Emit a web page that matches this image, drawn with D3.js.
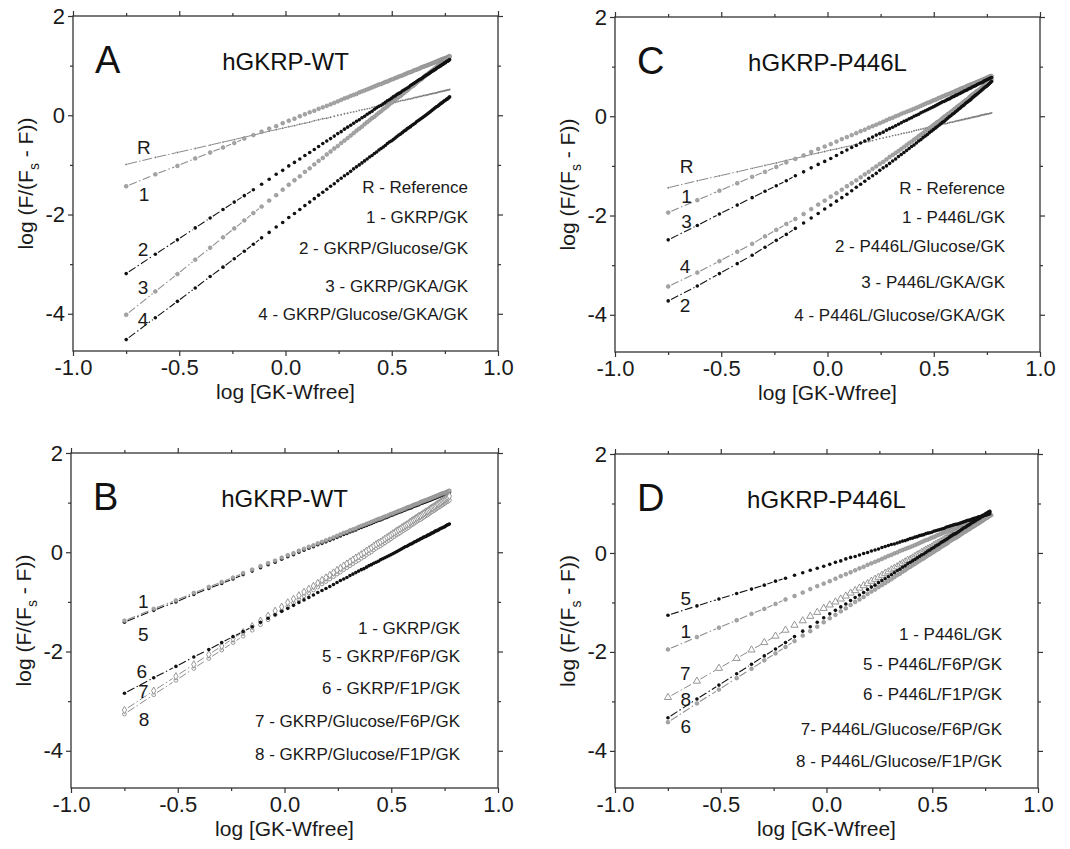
<!DOCTYPE html>
<html>
<head>
<meta charset="utf-8">
<script src="https://cdn.jsdelivr.net/npm/d3@7"></script>
<style>
  html, body { margin: 0; padding: 0; background: #fff; }
  svg { display: block; font-family: "Liberation Sans", Arial, Helvetica, sans-serif; }
</style>
</head>
<body>
<svg id="fig" width="1070" height="849"></svg>
<script>
// Titration points: log [GK-Wfree] (same GK additions for every curve)
const logGK = [
  -0.7496,-0.6126,-0.5086,-0.4248,-0.3546,-0.2941,-0.2411,-0.1938,-0.1512,-0.1124,
  -0.0768,-0.0438,-0.0132,0.0154,0.0422,0.0674,0.0913,0.1139,0.1355,0.1559,
  0.1755,0.1942,0.2122,0.2295,0.2460,0.2620,0.2774,0.2923,0.3067,0.3206,
  0.3341,0.3471,0.3598,0.3722,0.3842,0.3959,0.4072,0.4183,0.4291,0.4397,
  0.4499,0.4600,0.4698,0.4794,0.4888,0.4980,0.5071,0.5159,0.5245,0.5330,
  0.5413,0.5495,0.5575,0.5654,0.5731,0.5807,0.5882,0.5955,0.6027,0.6098,
  0.6168,0.6236,0.6304,0.6371,0.6436,0.6501,0.6565,0.6628,0.6690,0.6750,
  0.6811,0.6870,0.6928,0.6986,0.7043,0.7099,0.7155,0.7210,0.7264,0.7317,
  0.7370,0.7422,0.7474,0.7525,0.7575,0.7625,0.7674,0.7723
];

// ---- Panel A: hGKRP-WT, log(F/(Fs-F)) ----
const A_R = [
  -0.99,-0.85,-0.75,-0.67,-0.60,-0.54,-0.49,-0.44,-0.40,-0.36,
  -0.32,-0.29,-0.26,-0.23,-0.21,-0.18,-0.16,-0.14,-0.11,-0.09,
  -0.07,-0.06,-0.04,-0.02,0.00,0.01,0.03,0.04,0.06,0.07,
  0.08,0.10,0.11,0.12,0.13,0.14,0.16,0.17,0.18,0.19,
  0.20,0.21,0.22,0.23,0.24,0.25,0.25,0.26,0.27,0.28,
  0.29,0.30,0.30,0.31,0.32,0.33,0.33,0.34,0.35,0.36,
  0.36,0.37,0.38,0.38,0.39,0.40,0.40,0.41,0.41,0.42,
  0.43,0.43,0.44,0.44,0.45,0.45,0.46,0.47,0.47,0.48,
  0.48,0.49,0.49,0.50,0.50,0.51,0.51,0.52
];
const A_1 = [
  -1.43,-1.19,-1.02,-0.87,-0.75,-0.65,-0.56,-0.47,-0.40,-0.33,
  -0.27,-0.22,-0.16,-0.11,-0.07,-0.02,0.02,0.06,0.09,0.13,
  0.16,0.19,0.22,0.25,0.28,0.31,0.34,0.36,0.39,0.41,
  0.43,0.46,0.48,0.50,0.52,0.54,0.56,0.58,0.60,0.62,
  0.63,0.65,0.67,0.68,0.70,0.72,0.73,0.75,0.76,0.78,
  0.79,0.80,0.82,0.83,0.85,0.86,0.87,0.88,0.90,0.91,
  0.92,0.93,0.94,0.96,0.97,0.98,0.99,1.00,1.01,1.02,
  1.03,1.04,1.05,1.06,1.07,1.08,1.09,1.10,1.11,1.12,
  1.13,1.14,1.14,1.15,1.16,1.17,1.18,1.19
];
const A_2 = [
  -3.19,-2.80,-2.51,-2.27,-2.07,-1.90,-1.75,-1.62,-1.50,-1.39,
  -1.29,-1.19,-1.11,-1.02,-0.95,-0.88,-0.81,-0.75,-0.69,-0.63,
  -0.57,-0.52,-0.47,-0.42,-0.37,-0.33,-0.28,-0.24,-0.20,-0.16,
  -0.12,-0.09,-0.05,-0.02,0.02,0.05,0.08,0.12,0.15,0.18,
  0.20,0.23,0.26,0.29,0.31,0.34,0.37,0.39,0.42,0.44,
  0.46,0.49,0.51,0.53,0.55,0.57,0.60,0.62,0.64,0.66,
  0.68,0.70,0.72,0.73,0.75,0.77,0.79,0.81,0.82,0.84,
  0.86,0.88,0.89,0.91,0.92,0.94,0.96,0.97,0.99,1.00,
  1.02,1.03,1.05,1.06,1.08,1.09,1.10,1.12
];
const A_3 = [
  -4.02,-3.55,-3.20,-2.91,-2.67,-2.46,-2.28,-2.12,-1.97,-1.84,
  -1.72,-1.61,-1.50,-1.40,-1.31,-1.23,-1.14,-1.07,-0.99,-0.92,
  -0.86,-0.79,-0.73,-0.67,-0.62,-0.56,-0.51,-0.46,-0.41,-0.36,
  -0.31,-0.27,-0.23,-0.18,-0.14,-0.10,-0.06,-0.03,0.01,0.05,
  0.08,0.12,0.15,0.18,0.22,0.25,0.28,0.31,0.34,0.37,
  0.39,0.42,0.45,0.48,0.50,0.53,0.56,0.58,0.60,0.63,
  0.65,0.68,0.70,0.72,0.74,0.77,0.79,0.81,0.83,0.85,
  0.87,0.89,0.91,0.93,0.95,0.97,0.99,1.01,1.03,1.05,
  1.06,1.08,1.10,1.12,1.13,1.15,1.17,1.18
];
const A_4 = [
  -4.52,-4.08,-3.75,-3.48,-3.25,-3.06,-2.89,-2.74,-2.60,-2.47,
  -2.36,-2.25,-2.16,-2.06,-1.98,-1.90,-1.82,-1.75,-1.68,-1.61,
  -1.55,-1.49,-1.43,-1.38,-1.32,-1.27,-1.22,-1.18,-1.13,-1.08,
  -1.04,-1.00,-0.96,-0.92,-0.88,-0.84,-0.81,-0.77,-0.74,-0.70,
  -0.67,-0.64,-0.61,-0.57,-0.54,-0.52,-0.49,-0.46,-0.43,-0.40,
  -0.38,-0.35,-0.32,-0.30,-0.27,-0.25,-0.23,-0.20,-0.18,-0.16,
  -0.13,-0.11,-0.09,-0.07,-0.05,-0.03,-0.01,0.01,0.03,0.05,
  0.07,0.09,0.11,0.13,0.15,0.17,0.18,0.20,0.22,0.24,
  0.25,0.27,0.29,0.30,0.32,0.33,0.35,0.37
];

// ---- Panel C: hGKRP-P446L ----
const C_R = [
  -1.44,-1.30,-1.20,-1.12,-1.05,-0.99,-0.94,-0.89,-0.85,-0.81,
  -0.77,-0.74,-0.71,-0.68,-0.66,-0.63,-0.61,-0.59,-0.56,-0.54,
  -0.52,-0.51,-0.49,-0.47,-0.45,-0.44,-0.42,-0.41,-0.39,-0.38,
  -0.37,-0.35,-0.34,-0.33,-0.32,-0.31,-0.29,-0.28,-0.27,-0.26,
  -0.25,-0.24,-0.23,-0.22,-0.21,-0.20,-0.20,-0.19,-0.18,-0.17,
  -0.16,-0.15,-0.15,-0.14,-0.13,-0.12,-0.12,-0.11,-0.10,-0.09,
  -0.09,-0.08,-0.07,-0.07,-0.06,-0.05,-0.05,-0.04,-0.04,-0.03,
  -0.02,-0.02,-0.01,-0.01,0.00,0.00,0.01,0.02,0.02,0.03,
  0.03,0.04,0.04,0.05,0.05,0.06,0.06,0.07
];
const C_1 = [
  -1.94,-1.69,-1.50,-1.35,-1.22,-1.12,-1.02,-0.93,-0.86,-0.79,
  -0.72,-0.66,-0.61,-0.56,-0.51,-0.46,-0.42,-0.38,-0.34,-0.30,
  -0.27,-0.23,-0.20,-0.17,-0.14,-0.11,-0.08,-0.05,-0.03,0.00,
  0.02,0.05,0.07,0.09,0.11,0.13,0.15,0.17,0.19,0.21,
  0.23,0.25,0.27,0.28,0.30,0.32,0.33,0.35,0.37,0.38,
  0.40,0.41,0.43,0.44,0.45,0.47,0.48,0.49,0.51,0.52,
  0.53,0.55,0.56,0.57,0.58,0.59,0.61,0.62,0.63,0.64,
  0.65,0.66,0.67,0.68,0.69,0.70,0.71,0.72,0.73,0.74,
  0.75,0.76,0.77,0.78,0.79,0.80,0.81,0.81
];
const C_2 = [
  -3.72,-3.42,-3.17,-2.97,-2.80,-2.64,-2.50,-2.38,-2.26,-2.15,
  -2.05,-1.96,-1.87,-1.79,-1.71,-1.64,-1.57,-1.50,-1.43,-1.37,
  -1.31,-1.25,-1.20,-1.15,-1.09,-1.04,-1.00,-0.95,-0.90,-0.86,
  -0.81,-0.77,-0.73,-0.69,-0.65,-0.61,-0.58,-0.54,-0.50,-0.47,
  -0.43,-0.40,-0.37,-0.33,-0.30,-0.27,-0.24,-0.21,-0.18,-0.15,
  -0.12,-0.10,-0.07,-0.04,-0.01,0.01,0.04,0.06,0.09,0.11,
  0.14,0.16,0.19,0.21,0.23,0.26,0.28,0.30,0.32,0.34,
  0.37,0.39,0.41,0.43,0.45,0.47,0.49,0.51,0.53,0.55,
  0.57,0.59,0.60,0.62,0.64,0.66,0.68,0.70
];
const C_3 = [
  -2.49,-2.20,-1.97,-1.79,-1.64,-1.51,-1.40,-1.30,-1.20,-1.12,
  -1.04,-0.97,-0.91,-0.85,-0.79,-0.73,-0.68,-0.63,-0.59,-0.54,
  -0.50,-0.46,-0.42,-0.38,-0.35,-0.32,-0.28,-0.25,-0.22,-0.19,
  -0.16,-0.13,-0.10,-0.08,-0.05,-0.03,0.00,0.02,0.04,0.07,
  0.09,0.11,0.13,0.15,0.17,0.19,0.21,0.23,0.25,0.27,
  0.29,0.30,0.32,0.34,0.35,0.37,0.39,0.40,0.42,0.43,
  0.45,0.46,0.48,0.49,0.51,0.52,0.53,0.55,0.56,0.57,
  0.59,0.60,0.61,0.62,0.64,0.65,0.66,0.67,0.68,0.69,
  0.71,0.72,0.73,0.74,0.75,0.76,0.77,0.78
];
const C_4 = [
  -3.43,-3.15,-2.92,-2.73,-2.57,-2.42,-2.29,-2.17,-2.07,-1.97,
  -1.87,-1.78,-1.70,-1.62,-1.55,-1.48,-1.41,-1.35,-1.29,-1.23,
  -1.17,-1.12,-1.06,-1.01,-0.96,-0.92,-0.87,-0.82,-0.78,-0.74,
  -0.70,-0.66,-0.62,-0.58,-0.54,-0.51,-0.47,-0.44,-0.40,-0.37,
  -0.34,-0.30,-0.27,-0.24,-0.21,-0.18,-0.15,-0.12,-0.10,-0.07,
  -0.04,-0.01,0.01,0.04,0.06,0.09,0.11,0.14,0.16,0.19,
  0.21,0.23,0.25,0.28,0.30,0.32,0.34,0.36,0.39,0.41,
  0.43,0.45,0.47,0.49,0.51,0.52,0.54,0.56,0.58,0.60,
  0.62,0.64,0.65,0.67,0.69,0.71,0.72,0.74
];

// ---- Panel B: hGKRP-WT with sugar phosphates ----
const B_1 = [
  -1.38,-1.14,-0.97,-0.82,-0.70,-0.60,-0.51,-0.42,-0.35,-0.28,
  -0.22,-0.17,-0.11,-0.06,-0.02,0.03,0.07,0.11,0.14,0.18,
  0.21,0.24,0.27,0.30,0.33,0.36,0.39,0.41,0.44,0.46,
  0.48,0.51,0.53,0.55,0.57,0.59,0.61,0.63,0.65,0.67,
  0.68,0.70,0.72,0.73,0.75,0.77,0.78,0.80,0.81,0.83,
  0.84,0.85,0.87,0.88,0.90,0.91,0.92,0.93,0.95,0.96,
  0.97,0.98,0.99,1.01,1.02,1.03,1.04,1.05,1.06,1.07,
  1.08,1.09,1.10,1.11,1.12,1.13,1.14,1.15,1.16,1.17,
  1.18,1.19,1.19,1.20,1.21,1.22,1.23,1.24
];
const B_5 = [
  -1.41,-1.17,-1.00,-0.85,-0.73,-0.63,-0.54,-0.45,-0.38,-0.31,
  -0.25,-0.20,-0.14,-0.09,-0.05,0.00,0.04,0.08,0.11,0.15,
  0.18,0.21,0.24,0.27,0.30,0.33,0.36,0.38,0.41,0.43,
  0.45,0.48,0.50,0.52,0.54,0.56,0.58,0.60,0.62,0.64,
  0.65,0.67,0.69,0.70,0.72,0.74,0.75,0.77,0.78,0.80,
  0.81,0.82,0.84,0.85,0.87,0.88,0.89,0.90,0.92,0.93,
  0.94,0.95,0.96,0.98,0.99,1.00,1.01,1.02,1.03,1.04,
  1.05,1.06,1.07,1.08,1.09,1.10,1.11,1.12,1.13,1.14,
  1.15,1.16,1.16,1.17,1.18,1.19,1.20,1.21
];
const B_6 = [
  -2.84,-2.53,-2.30,-2.11,-1.96,-1.82,-1.70,-1.60,-1.50,-1.41,
  -1.33,-1.26,-1.19,-1.13,-1.07,-1.01,-0.96,-0.91,-0.86,-0.81,
  -0.77,-0.73,-0.69,-0.65,-0.61,-0.57,-0.54,-0.51,-0.47,-0.44,
  -0.41,-0.38,-0.35,-0.33,-0.30,-0.27,-0.25,-0.22,-0.20,-0.18,
  -0.15,-0.13,-0.11,-0.09,-0.07,-0.05,-0.03,-0.01,0.01,0.03,
  0.05,0.07,0.09,0.11,0.12,0.14,0.16,0.17,0.19,0.21,
  0.22,0.24,0.25,0.27,0.28,0.30,0.31,0.32,0.34,0.35,
  0.36,0.38,0.39,0.40,0.42,0.43,0.44,0.45,0.47,0.48,
  0.49,0.50,0.51,0.52,0.54,0.55,0.56,0.57
];
const B_7 = [
  -3.18,-2.79,-2.50,-2.26,-2.06,-1.89,-1.74,-1.61,-1.49,-1.38,
  -1.28,-1.18,-1.10,-1.01,-0.94,-0.87,-0.80,-0.74,-0.68,-0.62,
  -0.56,-0.51,-0.46,-0.41,-0.36,-0.32,-0.27,-0.23,-0.19,-0.15,
  -0.11,-0.08,-0.04,-0.01,0.03,0.06,0.09,0.13,0.16,0.19,
  0.21,0.24,0.27,0.30,0.32,0.35,0.38,0.40,0.43,0.45,
  0.47,0.50,0.52,0.54,0.56,0.58,0.61,0.63,0.65,0.67,
  0.69,0.71,0.73,0.74,0.76,0.78,0.80,0.82,0.83,0.85,
  0.87,0.89,0.90,0.92,0.93,0.95,0.97,0.98,1.00,1.01,
  1.03,1.04,1.06,1.07,1.09,1.10,1.11,1.13
];
const B_8 = [
  -3.26,-2.87,-2.58,-2.34,-2.14,-1.97,-1.82,-1.69,-1.57,-1.46,
  -1.36,-1.26,-1.18,-1.09,-1.02,-0.95,-0.88,-0.82,-0.76,-0.70,
  -0.64,-0.59,-0.54,-0.49,-0.44,-0.40,-0.35,-0.31,-0.27,-0.23,
  -0.19,-0.16,-0.12,-0.09,-0.05,-0.02,0.01,0.05,0.08,0.11,
  0.13,0.16,0.19,0.22,0.24,0.27,0.30,0.32,0.35,0.37,
  0.39,0.42,0.44,0.46,0.48,0.50,0.53,0.55,0.57,0.59,
  0.61,0.63,0.65,0.66,0.68,0.70,0.72,0.74,0.75,0.77,
  0.79,0.81,0.82,0.84,0.85,0.87,0.89,0.90,0.92,0.93,
  0.95,0.96,0.98,0.99,1.01,1.02,1.03,1.05
];

// ---- Panel D: hGKRP-P446L with sugar phosphates ----
const D_1 = [
  -1.95,-1.70,-1.51,-1.36,-1.23,-1.13,-1.03,-0.94,-0.87,-0.80,
  -0.73,-0.67,-0.62,-0.57,-0.52,-0.47,-0.43,-0.39,-0.35,-0.31,
  -0.28,-0.24,-0.21,-0.18,-0.15,-0.12,-0.09,-0.06,-0.04,-0.01,
  0.01,0.04,0.06,0.08,0.10,0.12,0.14,0.16,0.18,0.20,
  0.22,0.24,0.26,0.27,0.29,0.31,0.32,0.34,0.36,0.37,
  0.39,0.40,0.42,0.43,0.44,0.46,0.47,0.48,0.50,0.51,
  0.52,0.54,0.55,0.56,0.57,0.58,0.60,0.61,0.62,0.63,
  0.64,0.65,0.66,0.67,0.68,0.69,0.70,0.71,0.72,0.73,
  0.74,0.75,0.76,0.77,0.78,0.79,0.80,0.80
];
const D_5 = [
  -1.26,-1.07,-0.93,-0.82,-0.73,-0.65,-0.57,-0.51,-0.45,-0.40,
  -0.35,-0.31,-0.27,-0.23,-0.19,-0.16,-0.12,-0.09,-0.07,-0.04,
  -0.01,0.01,0.04,0.06,0.08,0.11,0.13,0.15,0.17,0.18,
  0.20,0.22,0.24,0.25,0.27,0.29,0.30,0.32,0.33,0.35,
  0.36,0.37,0.39,0.40,0.41,0.42,0.44,0.45,0.46,0.47,
  0.48,0.49,0.50,0.52,0.53,0.54,0.55,0.56,0.57,0.58,
  0.58,0.59,0.60,0.61,0.62,0.63,0.64,0.65,0.66,0.66,
  0.67,0.68,0.69,0.70,0.70,0.71,0.72,0.73,0.73,0.74,
  0.75,0.75,0.76,0.77,0.77,0.78,0.79,0.79
];
const D_6 = [
  -3.33,-2.95,-2.67,-2.44,-2.25,-2.08,-1.94,-1.81,-1.69,-1.58,
  -1.49,-1.40,-1.31,-1.23,-1.16,-1.09,-1.03,-0.96,-0.90,-0.85,
  -0.80,-0.74,-0.69,-0.65,-0.60,-0.56,-0.52,-0.48,-0.44,-0.40,
  -0.36,-0.33,-0.29,-0.26,-0.22,-0.19,-0.16,-0.13,-0.10,-0.07,
  -0.04,-0.02,0.01,0.04,0.06,0.09,0.11,0.14,0.16,0.18,
  0.21,0.23,0.25,0.27,0.29,0.32,0.34,0.36,0.38,0.39,
  0.41,0.43,0.45,0.47,0.49,0.51,0.52,0.54,0.56,0.57,
  0.59,0.61,0.62,0.64,0.65,0.67,0.68,0.70,0.71,0.73,
  0.74,0.76,0.77,0.79,0.80,0.81,0.83,0.84
];
const D_7 = [
  -2.92,-2.59,-2.33,-2.13,-1.96,-1.81,-1.68,-1.56,-1.46,-1.37,
  -1.28,-1.20,-1.12,-1.05,-0.99,-0.93,-0.87,-0.81,-0.76,-0.71,
  -0.66,-0.62,-0.57,-0.53,-0.49,-0.45,-0.41,-0.38,-0.34,-0.31,
  -0.28,-0.24,-0.21,-0.18,-0.15,-0.13,-0.10,-0.07,-0.04,-0.02,
  0.01,0.03,0.06,0.08,0.10,0.12,0.15,0.17,0.19,0.21,
  0.23,0.25,0.27,0.29,0.31,0.33,0.34,0.36,0.38,0.40,
  0.41,0.43,0.45,0.46,0.48,0.50,0.51,0.53,0.54,0.56,
  0.57,0.59,0.60,0.61,0.63,0.64,0.65,0.67,0.68,0.69,
  0.71,0.72,0.73,0.75,0.76,0.77,0.78,0.79
];
const D_8 = [
  -3.42,-3.04,-2.76,-2.53,-2.34,-2.17,-2.03,-1.90,-1.78,-1.67,
  -1.58,-1.49,-1.40,-1.32,-1.25,-1.18,-1.12,-1.05,-0.99,-0.94,
  -0.89,-0.83,-0.78,-0.74,-0.69,-0.65,-0.61,-0.57,-0.53,-0.49,
  -0.45,-0.42,-0.38,-0.35,-0.31,-0.28,-0.25,-0.22,-0.19,-0.16,
  -0.13,-0.11,-0.08,-0.05,-0.03,0.00,0.02,0.05,0.07,0.09,
  0.12,0.14,0.16,0.18,0.20,0.23,0.25,0.27,0.29,0.30,
  0.32,0.34,0.36,0.38,0.40,0.42,0.43,0.45,0.47,0.48,
  0.50,0.52,0.53,0.55,0.56,0.58,0.59,0.61,0.62,0.64,
  0.65,0.67,0.68,0.70,0.71,0.72,0.74,0.75
];

// Legend texts
const A_legend = ["R - Reference", "1 - GKRP/GK", "2 - GKRP/Glucose/GK", "3 - GKRP/GKA/GK", "4 - GKRP/Glucose/GKA/GK"];
const C_legend = ["R - Reference", "1 - P446L/GK", "2 - P446L/Glucose/GK", "3 - P446L/GKA/GK", "4 - P446L/Glucose/GKA/GK"];
const B_legend = ["1 - GKRP/GK", "5 - GKRP/F6P/GK", "6 - GKRP/F1P/GK", "7 - GKRP/Glucose/F6P/GK", "8 - GKRP/Glucose/F1P/GK"];
const D_legend = ["1 - P446L/GK", "5 - P446L/F6P/GK", "6 - P446L/F1P/GK", "7- P446L/Glucose/F6P/GK", "8 - P446L/Glucose/F1P/GK"];

// Curve tags placed next to the first titration point [text, x, y]
const A_tags = [["R", -0.666, -0.64], ["1", -0.666, -1.58], ["2", -0.67, -2.69], ["3", -0.67, -3.46], ["4", -0.67, -4.10]];
const C_tags = [["R", -0.663, -1.01], ["1", -0.663, -1.61], ["3", -0.663, -2.12], ["4", -0.67, -3.02], ["2", -0.67, -3.80]];
const B_tags = [["1", -0.661, -0.98], ["5", -0.661, -1.65], ["6", -0.668, -2.39], ["7", -0.661, -2.79], ["8", -0.658, -3.36]];
const D_tags = [["5", -0.665, -0.91], ["1", -0.665, -1.58], ["7", -0.668, -2.42], ["8", -0.665, -2.96], ["6", -0.665, -3.50]];

// Axis ticks
const xMajor = [-1, -0.5, 0, 0.5, 1];
const xMinor = [-0.75, -0.25, 0.25, 0.75];
const yMajor = [-4, -2, 0, 2];
const yMinor = [-3, -1, 1];

// ---------------------------------------------------------------------------
const FONT = '"Liberation Sans", Arial, Helvetica, sans-serif';
const svg = d3.select("#fig");
svg.append("rect").attr("width", 1070).attr("height", 849).attr("fill", "#fff");

// Marker / line styles per curve type
const STYLES = {
  ref:   { line: "#7a7a7a", lw: 0.9, dash: "10,2,1.5,2", gap: 1.2, minSeg: 1.5 },
  black: { line: "#111",    lw: 1.1, dash: "8,2.5,1.5,2.5", gap: 3.2, minSeg: 3.5 },
  gray:  { line: "#8c8c8c", lw: 1.1, dash: "8,2.5,1.5,2.5", gap: 3.4, minSeg: 3.5 },
  tri:   { line: "#8c8c8c", lw: 1.0, dash: "8,2.5,1.5,2.5", gap: 4.0, minSeg: 3.5 },
  diam:  { line: "#8c8c8c", lw: 1.0, dash: "8,2.5,1.5,2.5", gap: 4.0, minSeg: 3.5 },
  ocirc: { line: "#8c8c8c", lw: 1.0, dash: "8,2.5,1.5,2.5", gap: 4.0, minSeg: 3.5 }
};

function drawMarkers(g, pts, kind) {
  if (kind === "ref") {
    g.selectAll(null).data(pts).join("circle")
      .attr("cx", d => d[0]).attr("cy", d => d[1]).attr("r", 0.9).attr("fill", "#7a7a7a");
  } else if (kind === "black") {
    g.selectAll(null).data(pts).join("circle")
      .attr("cx", d => d[0]).attr("cy", d => d[1]).attr("r", 1.8).attr("fill", "#111");
  } else if (kind === "gray") {
    g.selectAll(null).data(pts).join("circle")
      .attr("cx", d => d[0]).attr("cy", d => d[1]).attr("r", 1.9)
      .attr("fill", "#a6a6a6").attr("stroke", "#8a8a8a").attr("stroke-width", 0.6);
  } else if (kind === "ocirc") {
    g.selectAll(null).data(pts).join("circle")
      .attr("cx", d => d[0]).attr("cy", d => d[1]).attr("r", 1.9)
      .attr("fill", "#fff").attr("stroke", "#8a8a8a").attr("stroke-width", 0.9);
  } else {
    const sym = d3.symbol().type(kind === "tri" ? d3.symbolTriangle : d3.symbolDiamond).size(kind === "tri" ? 22 : 16);
    g.selectAll(null).data(pts).join("path")
      .attr("transform", d => `translate(${d[0]},${d[1]})`)
      .attr("d", sym).attr("fill", "#fff").attr("stroke", "#8a8a8a").attr("stroke-width", 0.9);
  }
}

function drawCurve(g, x, y, ys, kind) {
  const st = STYLES[kind];
  const pts = logGK.map((v, i) => [x(v), y(ys[i])]);
  const segs = [];
  for (let i = 0; i < pts.length - 1; i++) {
    const [x0, y0] = pts[i], [x1, y1] = pts[i + 1];
    const dx = x1 - x0, dy = y1 - y0, len = Math.hypot(dx, dy);
    if (len - 2 * st.gap < st.minSeg) continue;
    const ux = dx / len, uy = dy / len;
    segs.push([x0 + ux * st.gap, y0 + uy * st.gap, x1 - ux * st.gap, y1 - uy * st.gap]);
  }
  const cg = g.append("g");
  cg.selectAll(null).data(segs).join("line")
    .attr("x1", d => d[0]).attr("y1", d => d[1]).attr("x2", d => d[2]).attr("y2", d => d[3])
    .attr("stroke", st.line).attr("stroke-width", st.lw).attr("stroke-dasharray", st.dash);
  drawMarkers(cg, pts, kind);
}

function drawAxes(g, x, y, b) {
  const mk = (axis, tx, ty, vals, size, fmt) => {
    const a = g.append("g").attr("transform", `translate(${tx},${ty})`)
      .call(axis.tickValues(vals).tickSize(size).tickPadding(3).tickFormat(fmt || (() => "")));
    a.select(".domain").remove();
    a.selectAll("line").attr("stroke", "#333").attr("stroke-width", 1.2);
    a.selectAll("text").attr("font-size", 22).attr("font-family", FONT).attr("fill", "#1a1a1a");
  };
  const bottom = b.top + b.height, right = b.left + b.width;
  mk(d3.axisBottom(x), 0, bottom, xMajor, 5, d => d.toFixed(1));
  mk(d3.axisBottom(x), 0, bottom, xMinor, 3);
  mk(d3.axisTop(x), 0, b.top, xMajor, 5);
  mk(d3.axisTop(x), 0, b.top, xMinor, 3);
  mk(d3.axisLeft(y), b.left, 0, yMajor, 5, d => String(d));
  mk(d3.axisLeft(y), b.left, 0, yMinor, 3);
  mk(d3.axisRight(y), right, 0, yMajor, 5);
  mk(d3.axisRight(y), right, 0, yMinor, 3);

  g.append("rect").attr("x", b.left).attr("y", b.top).attr("width", b.width).attr("height", b.height)
    .attr("fill", "none").attr("stroke", "#333").attr("stroke-width", 1.3);

  // x title
  g.append("text").attr("x", b.left + b.width / 2).attr("y", bottom + 48)
    .attr("text-anchor", "middle").attr("font-size", 21).attr("font-family", FONT).attr("fill", "#1a1a1a")
    .text("log [GK-Wfree]");
  // y title with subscript s
  const yt = g.append("text")
    .attr("transform", `translate(${b.left - 40},${b.top + b.height / 2}) rotate(-90)`)
    .attr("text-anchor", "middle").attr("font-size", 21).attr("font-family", FONT).attr("fill", "#1a1a1a");
  yt.append("tspan").text("log (F/(F");
  yt.append("tspan").attr("dy", 6).attr("font-size", 14).text("s");
  yt.append("tspan").attr("dy", -6).text(" - F))");
}

function drawPanel(p) {
  const b = p.box;
  const g = svg.append("g");
  const x = d3.scaleLinear().domain([-1, 1]).range([b.left, b.left + b.width]);
  const y = d3.scaleLinear().domain([-4.75, 2]).range([b.top + b.height, b.top]);

  drawAxes(g, x, y, b);

  p.series.forEach(s => drawCurve(g, x, y, s.y, s.kind));

  // panel letter and title
  g.append("text").attr("x", b.left + 22).attr("y", b.top + 57)
    .attr("font-size", 38).attr("font-family", FONT).attr("fill", "#111").text(p.letter);
  g.append("text").attr("x", b.left + b.width / 2).attr("y", b.top + 54)
    .attr("text-anchor", "middle").attr("font-size", 24).attr("font-family", FONT).attr("fill", "#111").text(p.title);

  // legend
  g.selectAll(null).data(p.legend).join("text")
    .attr("x", b.left + b.width - p.legendInset)
    .attr("y", (d, i) => b.top + p.legendRows[i])
    .attr("text-anchor", "end").attr("font-size", 17).attr("font-family", FONT).attr("fill", "#1a1a1a")
    .text(d => d);

  // curve tags
  g.selectAll(null).data(p.tags).join("text")
    .attr("x", d => x(d[1])).attr("y", d => y(d[2])).attr("dy", "0.36em")
    .attr("text-anchor", "middle").attr("font-size", 19).attr("font-family", FONT).attr("fill", "#1a1a1a")
    .text(d => d[0]);
}

const panels = [
  { letter: "A", title: "hGKRP-WT", box: { left: 73, top: 16, width: 425, height: 335 },
    series: [{ y: A_R, kind: "ref" }, { y: A_1, kind: "gray" }, { y: A_3, kind: "gray" },
             { y: A_2, kind: "black" }, { y: A_4, kind: "black" }],
    legend: A_legend, legendRows: [177, 207, 238, 276, 304], legendInset: 30, tags: A_tags },
  { letter: "C", title: "hGKRP-P446L", box: { left: 615, top: 17, width: 425, height: 335 },
    series: [{ y: C_R, kind: "ref" }, { y: C_1, kind: "gray" }, { y: C_4, kind: "gray" },
             { y: C_3, kind: "black" }, { y: C_2, kind: "black" }],
    legend: C_legend, legendRows: [177, 206, 235, 271, 304], legendInset: 35, tags: C_tags },
  { letter: "B", title: "hGKRP-WT", box: { left: 71, top: 453, width: 427, height: 335 },
    series: [{ y: B_5, kind: "black" }, { y: B_1, kind: "gray" }, { y: B_8, kind: "ocirc" },
             { y: B_7, kind: "diam" }, { y: B_6, kind: "black" }],
    legend: B_legend, legendRows: [181, 209, 241, 274, 307], legendInset: 38, tags: B_tags },
  { letter: "D", title: "hGKRP-P446L", box: { left: 615, top: 454, width: 423, height: 334 },
    series: [{ y: D_1, kind: "gray" }, { y: D_7, kind: "tri" }, { y: D_8, kind: "gray" },
             { y: D_5, kind: "black" }, { y: D_6, kind: "black" }],
    legend: D_legend, legendRows: [186, 216, 246, 281, 313], legendInset: 36, tags: D_tags }
];

panels.forEach(drawPanel);
</script>
</body>
</html>
